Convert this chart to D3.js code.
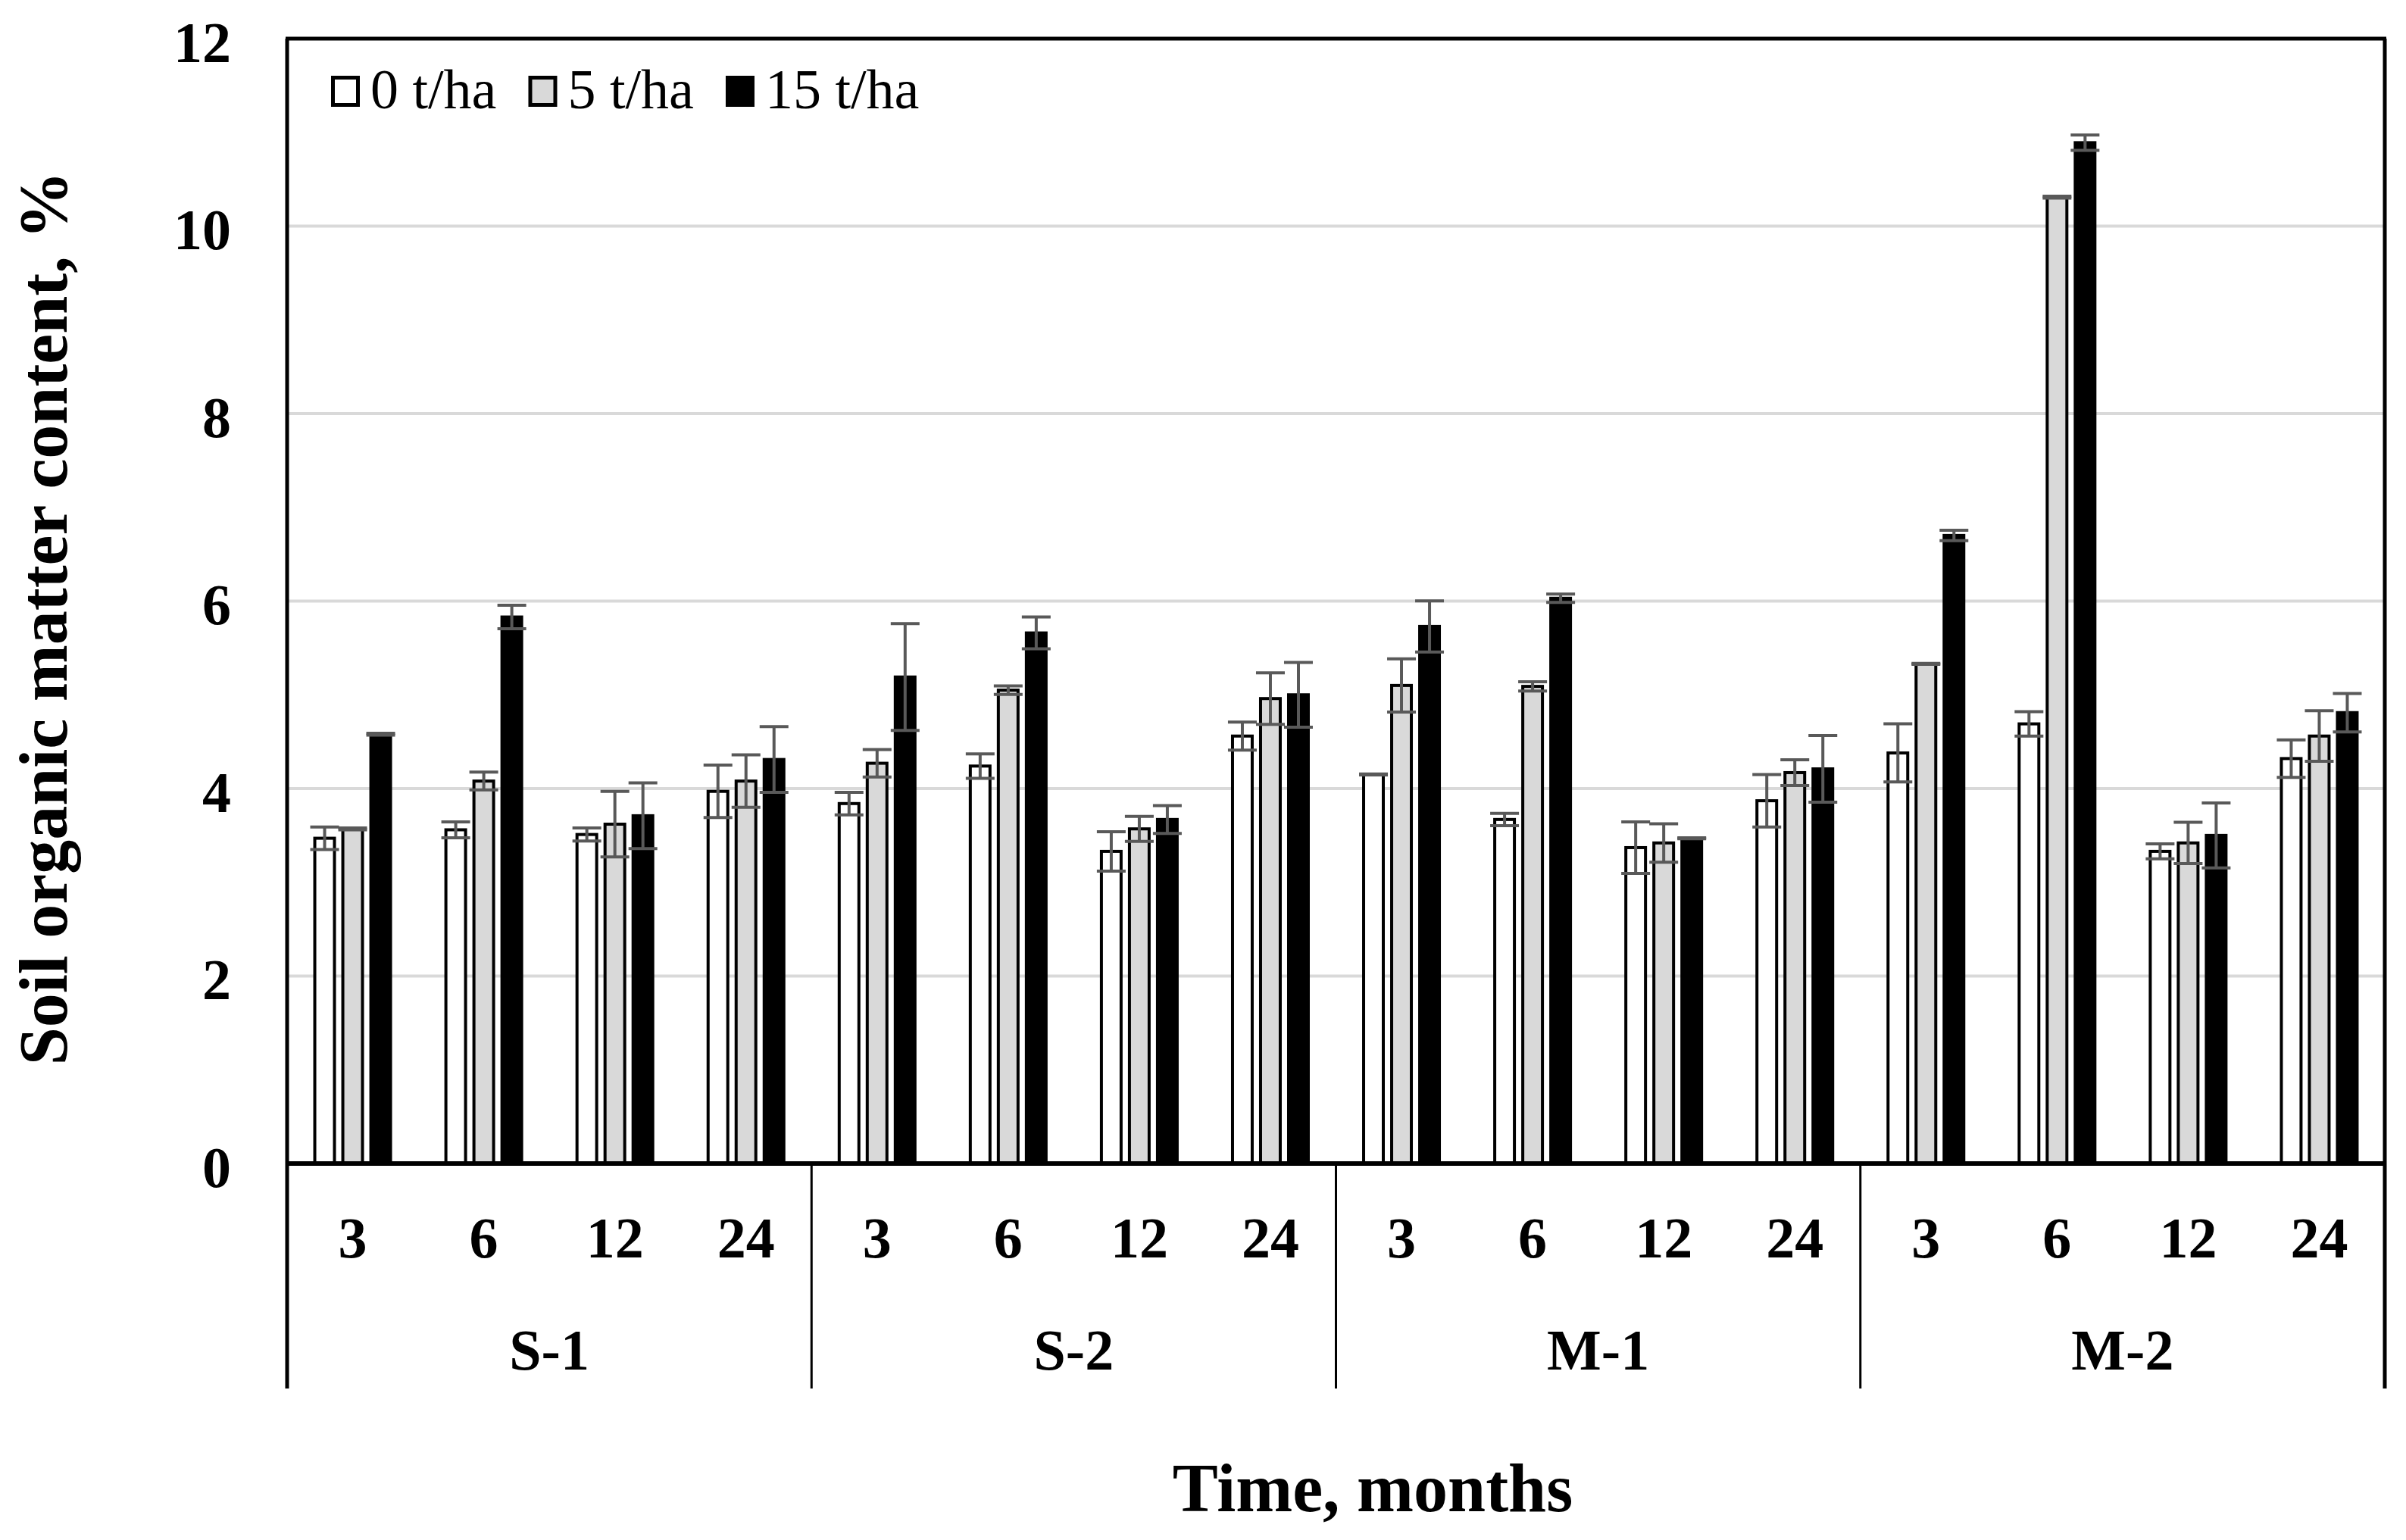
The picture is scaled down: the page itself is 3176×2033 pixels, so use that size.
<!DOCTYPE html>
<html>
<head>
<meta charset="utf-8">
<script src="https://cdn.jsdelivr.net/npm/d3@7"></script>
<style>
  body { margin: 0; background: #fff; }
  text { font-family: "Liberation Serif", "Times New Roman", serif; }
</style>
</head>
<body>
<script>
// Soil organic matter content by site, time and application rate
const groups = ["S-1", "S-2", "M-1", "M-2"];
const months = ["3", "6", "12", "24"];
const series = ["0 t/ha", "5 t/ha", "15 t/ha"];
const yTicks = [0, 2, 4, 6, 8, 10, 12];

// values in group order (S-1: 3,6,12,24 | S-2 | M-1 | M-2)
const mean0  = [3.47, 3.56, 3.51, 3.97,  3.84, 4.24, 3.33, 4.56,  4.15, 3.67, 3.37, 3.87,  4.38, 4.69, 3.33, 4.32];
const sd0    = [0.12, 0.085, 0.07, 0.28, 0.12, 0.13, 0.21, 0.15,  0.005, 0.066, 0.275, 0.28, 0.31, 0.13, 0.08, 0.2];
const mean5  = [3.57, 4.08, 3.62, 4.08,  4.27, 5.05, 3.57, 4.96,  5.10, 5.09, 3.42, 4.17,  5.33, 10.31, 3.42, 4.56];
const sd5    = [0.01, 0.095, 0.35, 0.28, 0.146, 0.045, 0.133, 0.275, 0.283, 0.05, 0.205, 0.137, 0.005, 0.01, 0.22, 0.27];
const mean15 = [4.58, 5.83, 3.71, 4.31,  5.19, 5.66, 3.67, 5.00,  5.73, 6.03, 3.47, 4.21,  6.70, 10.89, 3.50, 4.81];
const sd15   = [0.01, 0.125, 0.35, 0.35, 0.57, 0.17, 0.148, 0.345, 0.273, 0.044, 0.005, 0.355, 0.056, 0.082, 0.346, 0.205];

const fills = ["#ffffff", "#d9d9d9", "#000000"];

function drawChart() {
  const W = 3176, H = 2033;
  const left = 379, right = 3148, top = 51, bottom = 1536, catBottom = 1833;

  const svg = d3.select("body").append("svg")
    .attr("width", W)
    .attr("height", H);

  // flatten data
  const means = [mean0, mean5, mean15];
  const sds = [sd0, sd5, sd15];
  const data = [];
  groups.forEach((g, gi) => {
    months.forEach((m, mi) => {
      series.forEach((s, si) => {
        const k = gi * months.length + mi;
        data.push({ group: g, month: m, series: s, si: si, value: means[si][k], sd: sds[si][k] });
      });
    });
  });

  // scales
  const x0 = d3.scaleBand().domain(groups).range([left, right]);
  const x1 = d3.scaleBand().domain(months).range([0, x0.bandwidth()]);
  const x2 = d3.scaleBand().domain(series).range([-52, 52]).paddingInner(0.19);
  const y = d3.scaleLinear().domain([0, 12]).range([bottom, top]);

  const slotCenter = d => x0(d.group) + x1(d.month) + x1.bandwidth() / 2;

  // gridlines
  svg.append("g")
    .selectAll("line")
    .data(yTicks.filter(t => t > 0 && t < 12))
    .enter().append("line")
    .attr("x1", left).attr("x2", right)
    .attr("y1", d => y(d)).attr("y2", d => y(d))
    .attr("stroke", "#d9d9d9")
    .attr("stroke-width", 4);

  // bars
  const sw = 4;
  svg.append("g")
    .selectAll("rect")
    .data(data)
    .enter().append("rect")
    .attr("x", d => slotCenter(d) + x2(d.series) + sw / 2)
    .attr("width", x2.bandwidth() - sw)
    .attr("y", d => y(d.value))
    .attr("height", d => y(0) - y(d.value))
    .attr("fill", d => fills[d.si])
    .attr("stroke", "#000")
    .attr("stroke-width", sw);

  // error bars
  const eb = svg.append("g").attr("stroke", "#595959").attr("stroke-width", 4);
  const capHalf = 19;
  data.forEach(d => {
    const cx = slotCenter(d) + x2(d.series) + x2.bandwidth() / 2;
    const y1 = y(d.value + d.sd), y2 = y(d.value - d.sd);
    eb.append("line").attr("x1", cx).attr("x2", cx).attr("y1", y1).attr("y2", y2);
    eb.append("line").attr("x1", cx - capHalf).attr("x2", cx + capHalf).attr("y1", y1).attr("y2", y1);
    eb.append("line").attr("x1", cx - capHalf).attr("x2", cx + capHalf).attr("y1", y2).attr("y2", y2);
  });

  // frame: top, left, right, x axis
  svg.append("line").attr("x1", left - 2).attr("x2", right + 2).attr("y1", top).attr("y2", top)
    .attr("stroke", "#000").attr("stroke-width", 5);
  svg.append("line").attr("x1", left - 2).attr("x2", right + 2).attr("y1", y(0)).attr("y2", y(0))
    .attr("stroke", "#000").attr("stroke-width", 6);

  // group dividers (extend below the axis)
  const bounds = groups.map(g => x0(g)).concat([right]);
  svg.append("g")
    .selectAll("line")
    .data(bounds)
    .enter().append("line")
    .attr("x1", d => d).attr("x2", d => d)
    .attr("y1", (d, i) => (i === 0 || i === bounds.length - 1) ? top : y(0))
    .attr("y2", catBottom)
    .attr("stroke", "#000")
    .attr("stroke-width", (d, i) => (i === 0 || i === bounds.length - 1) ? 5 : 3);

  // y axis labels
  const yAxis = svg.append("g")
    .attr("transform", `translate(${left},0)`)
    .call(d3.axisLeft(y).tickValues(yTicks).tickSize(0).tickPadding(74));
  yAxis.select(".domain").remove();
  yAxis.selectAll("text")
    .attr("dy", "0.4em")
    .style("font-family", "Liberation Serif")
    .style("font-size", "76px")
    .style("font-weight", "bold")
    .attr("fill", "#000");

  // month labels
  const monthData = [];
  groups.forEach(g => months.forEach(m => monthData.push({ group: g, month: m })));
  svg.append("g")
    .selectAll("text")
    .data(monthData)
    .enter().append("text")
    .attr("x", d => slotCenter(d))
    .attr("y", 1660)
    .attr("text-anchor", "middle")
    .style("font-size", "76px")
    .style("font-weight", "bold")
    .text(d => d.month);

  // group labels
  svg.append("g")
    .selectAll("text")
    .data(groups)
    .enter().append("text")
    .attr("x", d => x0(d) + x0.bandwidth() / 2)
    .attr("y", 1808)
    .attr("text-anchor", "middle")
    .style("font-size", "76px")
    .style("font-weight", "bold")
    .text(d => d);

  // axis titles
  svg.append("text")
    .attr("x", 1812)
    .attr("y", 1995)
    .attr("text-anchor", "middle")
    .style("font-size", "90px")
    .style("font-weight", "bold")
    .text("Time, months");

  svg.append("text")
    .attr("transform", `translate(88, 816) rotate(-90)`)
    .attr("text-anchor", "middle")
    .style("font-size", "90px")
    .style("font-weight", "bold")
    .text("Soil organic matter content, %");

  // legend
  const legend = svg.append("g");
  let lx = 437;
  series.forEach((s, i) => {
    legend.append("rect")
      .attr("x", lx + 2.5)
      .attr("y", 102.5)
      .attr("width", 33)
      .attr("height", 36)
      .attr("fill", fills[i])
      .attr("stroke", "#000")
      .attr("stroke-width", 5);
    const t = legend.append("text")
      .attr("x", lx + 52)
      .attr("y", 143)
      .style("font-size", "74px")
      .text(s);
    lx = lx + 52 + t.node().getComputedTextLength() + 42;
  });
}

window.onload = () => {
  drawChart();
};
</script>
</body>
</html>
